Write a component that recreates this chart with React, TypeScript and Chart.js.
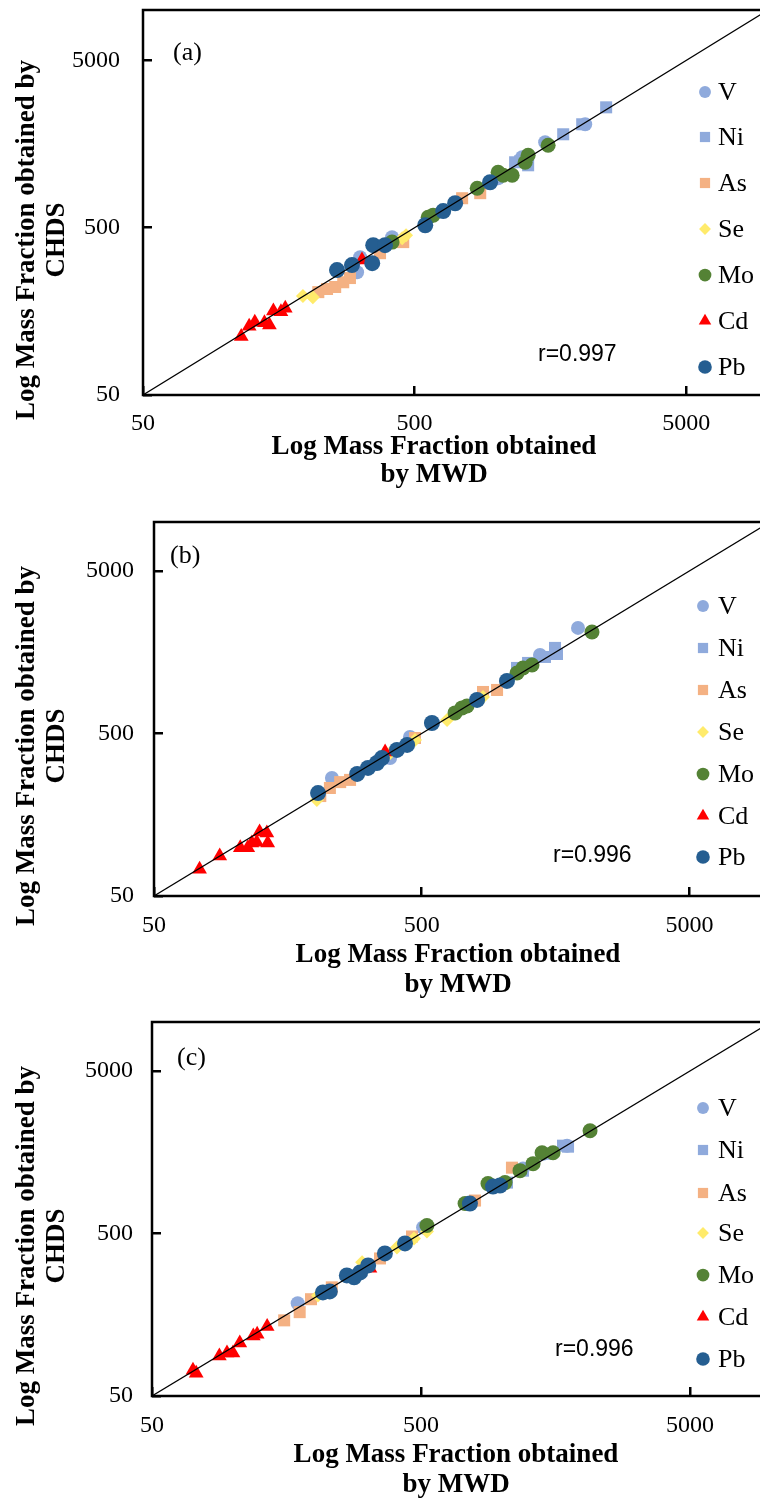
import React, { useEffect, useRef } from 'react';
import { Chart, registerables } from 'chart.js';
import { drawPoint } from 'chart.js/helpers';

Chart.register(...registerables);

// ---------- shared series styling / axis data ----------
const elements = ['V', 'Ni', 'As', 'Se', 'Mo', 'Cd', 'Pb'];
const colors = ['#8FAADC', '#8FAADC', '#F4B183', '#FFEB6B', '#548235', '#FF0000', '#255E91'];
const pointStyles = ['circle', 'rect', 'rect', 'rectRot', 'circle', 'triangle', 'circle'];
const pointRadii = [7, 8.5, 8.5, 7, 7.5, 8.5, 8];
const tickValues = [50, 500, 5000];
const axisMin = 50;
const axisMax = 10000;
const identityLine = [50, 10000];

// ---------- panel (a) ----------
const aV_x = [307, 315, 413, 1015, 1244, 1512, 2123];
const aV_y = [271, 333, 439, 987, 1318, 1620, 2075];
const aNi_x = [1172, 1223, 1309, 1762, 2070, 2536];
const aNi_y = [1230, 1247, 1180, 1808, 2075, 2620];
const aAs_x = [221, 238, 255, 273, 289, 373, 454, 748, 872];
const aAs_y = [206, 215, 221, 236, 250, 352, 410, 750, 804];
const aSe_x = [194, 211, 450, 465];
const aSe_y = [195, 192, 433, 451];
const aMo_x = [413, 561, 585, 850, 1015, 1059, 1143, 1276, 1309, 1551];
const aMo_y = [410, 577, 594, 860, 1073, 1028, 1028, 1230, 1355, 1555];
const aCd_x = [115, 123, 129, 140, 146, 151, 161, 167, 320];
const aCd_y = [112, 129, 136, 135, 131, 159, 157, 165, 320];
const aPb_x = [259, 294, 349, 352, 389, 547, 637, 705, 948];
const aPb_y = [279, 299, 307, 393, 393, 517, 628, 700, 934];

// ---------- panel (b) ----------
const bV_x = [231, 381, 452, 1383, 1918];
const bV_y = [266, 353, 476, 1520, 2230];
const bNi_x = [1135, 1248, 1444, 1574, 1601];
const bNi_y = [1265, 1358, 1478, 1680, 1542];
const bAs_x = [209, 227, 248, 270, 472, 847, 956];
const bAs_y = [206, 231, 251, 259, 469, 900, 926];
const bSe_x = [203, 381, 472, 622, 847];
const bSe_y = [195, 379, 456, 605, 839];
const bMo_x = [666, 707, 738, 1135, 1195, 1291, 2163];
const bMo_y = [669, 718, 738, 1178, 1265, 1320, 2107];
const bCd_x = [74, 88, 105, 112, 116, 121, 124, 132, 133, 365];
const bCd_y = [73, 88, 99, 99, 106, 107, 124, 122, 106, 385];
const bPb_x = [205, 287, 315, 340, 355, 404, 441, 546, 805, 1041];
const bPb_y = [215, 282, 307, 329, 353, 396, 425, 580, 804, 1052];

// ---------- panel (c) ----------
const cV_x = [174, 509, 1197, 1421, 1745];
const cV_y = [186, 544, 1253, 1548, 1734];
const cNi_x = [1044, 1197, 1470, 1686, 1760];
const cNi_y = [1028, 1217, 1548, 1734, 1710];
const cAs_x = [155, 177, 195, 233, 352, 463, 794, 1089];
const cAs_y = [146, 164, 197, 233, 351, 479, 797, 1270];
const cSe_x = [207, 302, 407, 471, 526];
const cSe_y = [208, 332, 410, 466, 514];
const cMo_x = [526, 729, 887, 1026, 1167, 1305, 1409, 1548, 2125];
const cMo_y = [560, 764, 1013, 1028, 1217, 1344, 1570, 1570, 2142];
const cCd_x = [71, 73, 89, 95, 100, 106, 119, 123, 134, 323];
const cCd_y = [72, 69, 88, 92, 92, 106, 117, 120, 134, 305];
const cPb_x = [216, 229, 265, 282, 297, 318, 367, 436, 760, 926, 983];
const cPb_y = [217, 220, 276, 269, 288, 318, 377, 434, 764, 971, 985];

// ---------- texts ----------
const yTitleLines = ['Log Mass Fraction obtained by', 'CHDS'];
const xTitleLines = ['Log Mass Fraction obtained', 'by MWD'];
const panelLabels = ['(a)', '(b)', '(c)'];
const rTexts = ['r=0.997', 'r=0.996', 'r=0.996'];

const SERIF = "'Times New Roman', 'Liberation Serif', serif";
const SANS = "Arial, 'Liberation Sans', sans-serif";

type Layout = {
  top: number; padTop: number; yAxisW: number; padRight: number; xAxisH: number;
  yTickPad: number; xTickPad: number;
  yT1: number; yT2: number; yTcy: number;
  xTcx: number; xT1: number; xT2: number;
  labX: number; labY: number; rX: number; rY: number;
  legX: number; legTX: number; legY: number[];
};

const layouts: Layout[] = [
  { top: 0, padTop: 10, yAxisW: 143, padRight: 32, xAxisH: 105, yTickPad: 32, xTickPad: 23,
    yT1: 27, yT2: 57, yTcy: 240, xTcx: 434, xT1: 447, xT2: 475,
    labX: 173, labY: 53, rX: 538, rY: 355,
    legX: 705, legTX: 718, legY: [92, 137, 183, 229, 275, 321, 367] },
  { top: 500, padTop: 22, yAxisW: 154, padRight: 30, xAxisH: 104, yTickPad: 29, xTickPad: 24,
    yT1: 27, yT2: 57, yTcy: 246, xTcx: 458, xT1: 455, xT2: 485,
    labX: 170, labY: 56, rX: 553, rY: 356,
    legX: 703, legTX: 718, legY: [106, 148, 190, 232, 274, 316, 357] },
  { top: 1000, padTop: 22, yAxisW: 152, padRight: 29, xAxisH: 104, yTickPad: 28, xTickPad: 24,
    yT1: 27, yT2: 57, yTcy: 246, xTcx: 456, xT1: 455, xT2: 485,
    labX: 177, labY: 58, rX: 555, rY: 350,
    legX: 703, legTX: 718, legY: [108, 150, 193, 233, 275, 317, 359] },
];

const panelSeries = [
  [[aV_x, aV_y], [aNi_x, aNi_y], [aAs_x, aAs_y], [aSe_x, aSe_y], [aMo_x, aMo_y], [aCd_x, aCd_y], [aPb_x, aPb_y]],
  [[bV_x, bV_y], [bNi_x, bNi_y], [bAs_x, bAs_y], [bSe_x, bSe_y], [bMo_x, bMo_y], [bCd_x, bCd_y], [bPb_x, bPb_y]],
  [[cV_x, cV_y], [cNi_x, cNi_y], [cAs_x, cAs_y], [cSe_x, cSe_y], [cMo_x, cMo_y], [cCd_x, cCd_y], [cPb_x, cPb_y]],
];

const CANVAS_W = 800;
const CANVAS_H = 500;

function makeDecor(idx: number) {
  const L = layouts[idx];
  return {
    id: 'decor' + idx,
    afterDraw(chart: any) {
      const { ctx, chartArea } = chart;
      ctx.save();
      // plot frame
      ctx.strokeStyle = '#000';
      ctx.lineWidth = 2.5;
      ctx.strokeRect(chartArea.left, chartArea.top, chartArea.right - chartArea.left, chartArea.bottom - chartArea.top);

      ctx.fillStyle = '#000';
      ctx.textAlign = 'center';
      ctx.textBaseline = 'middle';
      // y title (rotated)
      ctx.font = `bold 27px ${SERIF}`;
      [L.yT1, L.yT2].forEach((x, i) => {
        ctx.save();
        ctx.translate(x, L.yTcy);
        ctx.rotate(-Math.PI / 2);
        ctx.fillText(yTitleLines[i], 0, 0);
        ctx.restore();
      });
      // x title
      ctx.fillText(xTitleLines[0], L.xTcx, L.xT1);
      ctx.fillText(xTitleLines[1], L.xTcx, L.xT2);
      // panel label
      ctx.textAlign = 'left';
      ctx.font = `26px ${SERIF}`;
      ctx.fillText(panelLabels[idx], L.labX, L.labY);
      // r value
      ctx.font = `23px ${SANS}`;
      ctx.fillText(rTexts[idx], L.rX, L.rY);
      // legend
      elements.forEach((name, i) => {
        const y = L.legY[i];
        ctx.fillStyle = colors[i];
        drawPoint(ctx, { pointStyle: pointStyles[i], radius: pointRadii[i] * 0.85, rotation: 0, borderWidth: 0 } as any, L.legX, y);
        ctx.fillStyle = '#000';
        ctx.font = `26px ${SERIF}`;
        ctx.fillText(name, L.legTX, y + 1);
      });
      ctx.restore();
    },
  };
}

function zeroPad(s: any) {
  s.paddingTop = 0;
  s.paddingBottom = 0;
  s.paddingLeft = 0;
  s.paddingRight = 0;
}

function Panel({ idx }: { idx: number }) {
  const ref = useRef<HTMLCanvasElement | null>(null);
  useEffect(() => {
    if (!ref.current) return;
    const L = layouts[idx];
    const series = panelSeries[idx];
    const datasets: any[] = series.map((s, i) => ({
      type: 'scatter',
      label: elements[i],
      data: s[0].map((x, j) => ({ x, y: s[1][j] })),
      pointStyle: pointStyles[i],
      pointRadius: pointRadii[i],
      pointHoverRadius: pointRadii[i],
      backgroundColor: colors[i],
      borderColor: colors[i],
      borderWidth: 0,
      order: 10 - i,
    }));
    datasets.push({
      type: 'line',
      label: 'y=x',
      data: identityLine.map((v) => ({ x: v, y: v })),
      borderColor: '#000',
      borderWidth: 1.2,
      pointRadius: 0,
      fill: false,
      order: 0,
    });
    const tickFont = { family: SERIF, size: 24 };
    const chart = new Chart(ref.current, {
      type: 'scatter',
      data: { datasets },
      plugins: [makeDecor(idx)],
      options: {
        animation: false,
        responsive: false,
        devicePixelRatio: 1,
        layout: { padding: { top: L.padTop, right: L.padRight, left: 0, bottom: 0 } },
        plugins: { legend: { display: false }, tooltip: { enabled: false } },
        scales: {
          x: {
            type: 'logarithmic',
            position: 'bottom',
            min: axisMin,
            max: axisMax,
            afterBuildTicks: (s: any) => { s.ticks = tickValues.map((v) => ({ value: v })); },
            afterFit: (s: any) => { s.height = L.xAxisH; zeroPad(s); },
            ticks: { callback: (v: any) => String(v), font: tickFont, color: '#000', padding: L.xTickPad, maxRotation: 0, autoSkip: false },
            grid: { drawOnChartArea: false, drawTicks: true, tickLength: -9, tickColor: '#000', tickWidth: 2.5, color: '#000', lineWidth: 2.5 },
            border: { display: false },
          },
          y: {
            type: 'logarithmic',
            position: 'left',
            min: axisMin,
            max: axisMax,
            afterBuildTicks: (s: any) => { s.ticks = tickValues.map((v) => ({ value: v })); },
            afterFit: (s: any) => { s.width = L.yAxisW; zeroPad(s); },
            ticks: { callback: (v: any) => String(v), font: tickFont, color: '#000', padding: L.yTickPad, autoSkip: false },
            grid: { drawOnChartArea: false, drawTicks: true, tickLength: -9, tickColor: '#000', tickWidth: 2.5, color: '#000', lineWidth: 2.5 },
            border: { display: false },
          },
        },
      } as any,
    });
    return () => chart.destroy();
  }, [idx]);
  const L = layouts[idx];
  return (
    <canvas
      ref={ref}
      width={CANVAS_W}
      height={CANVAS_H}
      style={{ position: 'absolute', left: 0, top: L.top, width: CANVAS_W, height: CANVAS_H }}
    />
  );
}

export default function App() {
  return (
    <div style={{ position: 'fixed', left: 0, top: 0, width: 760, height: 1502, overflow: 'hidden', background: '#fff' }}>
      <Panel idx={0} />
      <Panel idx={1} />
      <Panel idx={2} />
    </div>
  );
}
